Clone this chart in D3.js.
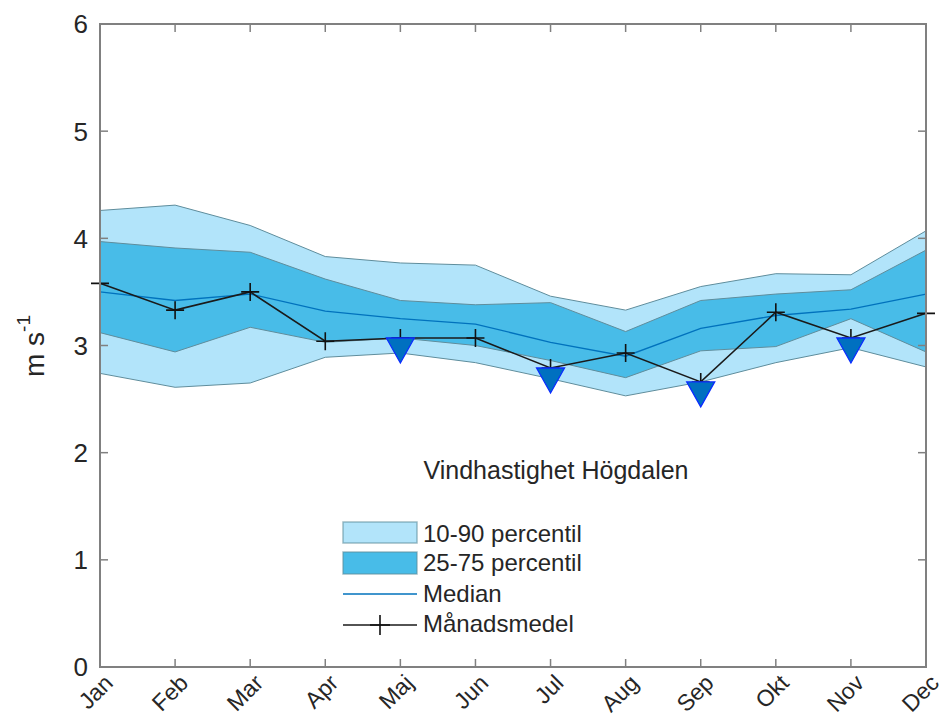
<!DOCTYPE html>
<html><head><meta charset="utf-8">
<script src="https://cdn.jsdelivr.net/npm/d3@7"></script>
<style>body{margin:0;background:#fff;} text{font-family:"Liberation Sans",Arial,sans-serif;fill:#262626;}</style>
</head><body><svg id="c" width="946" height="719"></svg>
<script>
const months = ["Jan","Feb","Mar","Apr","Maj","Jun","Jul","Aug","Sep","Okt","Nov","Dec"];
const p90 = [4.26,4.31,4.12,3.83,3.77,3.75,3.46,3.33,3.55,3.67,3.66,4.07];
const p75 = [3.97,3.91,3.87,3.62,3.42,3.38,3.40,3.13,3.42,3.48,3.52,3.89];
const median = [3.50,3.42,3.48,3.32,3.25,3.20,3.03,2.90,3.16,3.28,3.34,3.48];
const p25 = [3.12,2.94,3.17,3.03,3.07,3.00,2.86,2.70,2.95,2.99,3.25,2.94];
const p10 = [2.74,2.61,2.65,2.89,2.93,2.84,2.69,2.53,2.66,2.84,2.98,2.80];
const mean = [3.58,3.33,3.50,3.04,3.07,3.07,2.79,2.93,2.66,3.31,3.07,3.30];
const lowFlag = [false,false,false,false,true,false,true,false,true,false,true,false];
const yTicks = [0,1,2,3,4,5,6];
const legendLabels = ["10-90 percentil","25-75 percentil","Median","Månadsmedel"];
const titleText = "Vindhastighet Högdalen";

const svg = d3.select("#c");
const L=100, R=926, T=24, B=667;
const x = d3.scalePoint().domain(months).range([L,R]);
const y = d3.scaleLinear().domain([0,6]).range([B,T]);
const cLight="#b2e4fa", cDark="#48bce8", cEdge="#5f8d9c", cMed="#0072bd", axisC="#808080";

const idx = d3.range(months.length);
const band = (lo,hi)=>d3.area().x(i=>x(months[i])).y0(i=>y(lo[i])).y1(i=>y(hi[i]));
const line = arr=>d3.line().x(i=>x(months[i])).y(i=>y(arr[i]));

const g = svg.append("g");
g.append("path").attr("d",band(p10,p90)(idx)).attr("fill",cLight).attr("stroke","none");
g.append("path").attr("d",line(p90)(idx)).attr("fill","none").attr("stroke",cEdge).attr("stroke-width",1);
g.append("path").attr("d",line(p10)(idx)).attr("fill","none").attr("stroke",cEdge).attr("stroke-width",1);
g.append("path").attr("d",band(p25,p75)(idx)).attr("fill",cDark).attr("stroke","none");
g.append("path").attr("d",line(p75)(idx)).attr("fill","none").attr("stroke",cEdge).attr("stroke-width",1);
g.append("path").attr("d",line(p25)(idx)).attr("fill","none").attr("stroke",cEdge).attr("stroke-width",1);
g.append("path").attr("d",line(median)(idx)).attr("fill","none").attr("stroke",cMed).attr("stroke-width",1.3);
g.append("path").attr("d",line(mean)(idx)).attr("fill","none").attr("stroke","#1a1a1a").attr("stroke-width",1.6);
// crosses
idx.forEach(i=>{
  const cx=x(months[i]), cy=y(mean[i]);
  g.append("path").attr("d",`M${cx-9},${cy}H${cx+9}M${cx},${cy-9}V${cy+9}`).attr("stroke","#111").attr("stroke-width",1.6);
});
// triangles
idx.filter(i=>lowFlag[i]).forEach(i=>{
  const cx=x(months[i]), cy=y(mean[i]);
  g.append("path").attr("d",`M${cx-14},${cy}L${cx+14},${cy}L${cx},${cy+25}Z`).attr("fill","#0070c0").attr("stroke","#0a2cff").attr("stroke-width",1.3);
});

// axes
const ax = svg.append("g");
ax.append("rect").attr("x",L).attr("y",T).attr("width",R-L).attr("height",B-T).attr("fill","none").attr("stroke",axisC).attr("stroke-width",2);
months.forEach(m=>{
  const xx=x(m);
  ax.append("line").attr("x1",xx).attr("x2",xx).attr("y1",B).attr("y2",B-8).attr("stroke",axisC).attr("stroke-width",1.5);
  ax.append("line").attr("x1",xx).attr("x2",xx).attr("y1",T).attr("y2",T+8).attr("stroke",axisC).attr("stroke-width",1.5);
  ax.append("text").attr("transform",`translate(${xx+3},${B+6}) rotate(-45)`).attr("text-anchor","end").attr("dy","0.7em").attr("font-size",23).text(m);
});
yTicks.forEach(v=>{
  const yy=y(v);
  ax.append("line").attr("x1",L).attr("x2",L+8).attr("y1",yy).attr("y2",yy).attr("stroke",axisC).attr("stroke-width",1.5);
  ax.append("line").attr("x1",R).attr("x2",R-8).attr("y1",yy).attr("y2",yy).attr("stroke",axisC).attr("stroke-width",1.5);
  ax.append("text").attr("x",L-12).attr("y",yy).attr("dy","0.36em").attr("text-anchor","end").attr("font-size",26).text(v);
});
// y label
const yl = svg.append("text").attr("transform","translate(44,346) rotate(-90)").attr("text-anchor","middle").attr("font-size",28);
yl.append("tspan").text("m s");
yl.append("tspan").attr("dy",-14).attr("font-size",19).text("-1");

// title text inside
svg.append("text").attr("x",556).attr("y",479).attr("text-anchor","middle").attr("font-size",25).text(titleText);

// legend
const lg = svg.append("g");
const lx=343, lw=74;
lg.append("rect").attr("x",lx).attr("y",522).attr("width",lw).attr("height",21).attr("fill",cLight).attr("stroke",cEdge).attr("stroke-opacity",0.6).attr("stroke-width",1.5);
lg.append("rect").attr("x",lx).attr("y",552).attr("width",lw).attr("height",22).attr("fill",cDark).attr("stroke",cEdge).attr("stroke-opacity",0.6).attr("stroke-width",1.5);
lg.append("line").attr("x1",lx).attr("x2",lx+lw).attr("y1",594).attr("y2",594).attr("stroke",cMed).attr("stroke-width",1.5);
lg.append("line").attr("x1",lx).attr("x2",lx+lw).attr("y1",625).attr("y2",625).attr("stroke","#1a1a1a").attr("stroke-width",1.6);
lg.append("path").attr("d",`M${lx+lw/2-10},625H${lx+lw/2+10}M${lx+lw/2},615V635`).attr("stroke","#111").attr("stroke-width",1.6);
[533,562,593,623].forEach((yy,i)=>{
  lg.append("text").attr("x",423).attr("y",yy).attr("dy","0.36em").attr("font-size",24).text(legendLabels[i]);
});
</script></body></html>
